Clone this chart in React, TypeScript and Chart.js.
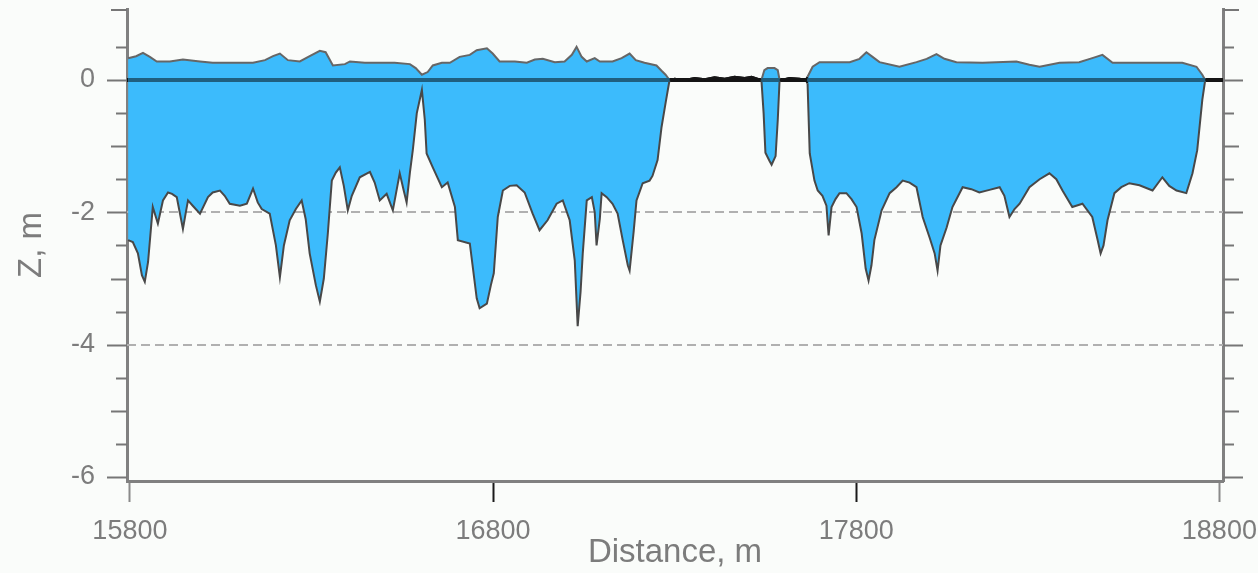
import React, { useEffect, useRef } from 'react';
import { Chart, registerables } from 'chart.js';

Chart.register(...registerables);

// ---- axes ----
const xMin = 15792;
const xMax = 18810;
const xTickValues = [15800, 16800, 17800, 18800];
const yMin = -6.06;
const yMax = 1.073;
const yLabelValues = [0, -2, -4, -6];
const yMinorStep = 0.5;
const dashedLevels = [-2, -4];

// ---- western basin ----
const westSurfaceDist = [15795, 15817, 15836, 15855, 15874, 15910, 15946, 15993, 16028, 16103, 16139, 16172, 16194, 16213, 16235, 16268, 16295, 16323, 16339, 16359, 16392, 16406, 16447, 16496, 16529, 16571, 16587, 16604, 16620, 16634, 16659, 16681, 16708, 16736, 16755, 16783, 16799, 16818, 16860, 16893, 16915, 16937, 16970, 16997, 17017, 17030, 17044, 17058, 17080, 17094, 17129, 17154, 17176, 17193, 17217, 17250, 17264, 17275, 17286];
const westSurfaceZ = [0.33, 0.36, 0.41, 0.35, 0.28, 0.28, 0.31, 0.28, 0.26, 0.26, 0.26, 0.30, 0.36, 0.40, 0.30, 0.28, 0.36, 0.44, 0.42, 0.22, 0.24, 0.28, 0.26, 0.26, 0.26, 0.24, 0.18, 0.08, 0.12, 0.22, 0.26, 0.26, 0.35, 0.38, 0.45, 0.48, 0.40, 0.28, 0.28, 0.26, 0.31, 0.32, 0.27, 0.28, 0.38, 0.50, 0.35, 0.28, 0.33, 0.28, 0.28, 0.33, 0.40, 0.30, 0.26, 0.22, 0.14, 0.08, 0.0];
const westBottomDist = [15795, 15808, 15822, 15833, 15841, 15850, 15863, 15877, 15891, 15905, 15916, 15929, 15946, 15954, 15960, 15973, 15993, 16015, 16028, 16048, 16061, 16075, 16103, 16122, 16139, 16152, 16163, 16185, 16202, 16213, 16224, 16240, 16257, 16273, 16284, 16295, 16312, 16323, 16334, 16345, 16356, 16367, 16378, 16389, 16400, 16411, 16433, 16461, 16474, 16488, 16507, 16524, 16543, 16554, 16562, 16571, 16579, 16590, 16604, 16612, 16617, 16634, 16659, 16675, 16695, 16703, 16736, 16755, 16763, 16783, 16794, 16802, 16813, 16827, 16846, 16865, 16887, 16909, 16928, 16950, 16975, 16992, 17011, 17025, 17033, 17041, 17047, 17058, 17072, 17080, 17085, 17094, 17099, 17113, 17129, 17143, 17157, 17171, 17176, 17187, 17195, 17212, 17231, 17239, 17253, 17264, 17275, 17286];
const westBottomZ = [-2.42, -2.45, -2.62, -2.95, -3.05, -2.75, -1.92, -2.17, -1.82, -1.70, -1.72, -1.77, -2.25, -2.0, -1.82, -1.9, -2.02, -1.77, -1.70, -1.67, -1.75, -1.87, -1.90, -1.87, -1.64, -1.85, -1.95, -2.02, -2.5, -2.98, -2.5, -2.12, -1.95, -1.82, -2.1, -2.62, -3.1, -3.35, -3.0, -2.32, -1.52, -1.4, -1.32, -1.6, -1.97, -1.75, -1.47, -1.39, -1.55, -1.82, -1.72, -1.97, -1.41, -1.67, -1.85, -1.4, -1.06, -0.5, -0.15, -0.6, -1.11, -1.32, -1.62, -1.55, -1.92, -2.42, -2.47, -3.3, -3.45, -3.38, -3.1, -2.92, -2.07, -1.67, -1.6, -1.59, -1.70, -2.02, -2.27, -2.12, -1.87, -1.82, -2.12, -2.73, -3.72, -3.2, -2.62, -1.82, -1.77, -2.0, -2.5, -2.1, -1.71, -1.77, -1.87, -2.02, -2.42, -2.8, -2.88, -2.3, -1.82, -1.56, -1.52, -1.45, -1.21, -0.71, -0.35, 0.0];

// ---- dry stretch and narrow notch ----
const flatDist = [17300, 17328, 17355, 17383, 17410, 17438, 17465, 17493, 17512, 17528];
const flatZ = [0.02, 0.0, 0.03, 0.01, 0.04, 0.02, 0.05, 0.03, 0.05, 0.02];
const notchTopDist = [17539, 17547, 17556, 17575, 17584, 17589];
const notchTopZ = [0.0, 0.15, 0.18, 0.18, 0.15, 0.0];
const notchBottomDist = [17539, 17545, 17550, 17561, 17567, 17578, 17584, 17589];
const notchBottomZ = [0.0, -0.5, -1.1, -1.22, -1.28, -1.15, -0.6, 0.0];
const flat2Dist = [17594, 17616, 17644, 17661];
const flat2Z = [0.0, 0.03, 0.02, 0.0];

// ---- eastern basin ----
const eastSurfaceDist = [17666, 17680, 17699, 17782, 17809, 17828, 17845, 17864, 17919, 17966, 17994, 18021, 18043, 18076, 18148, 18241, 18277, 18305, 18360, 18414, 18450, 18478, 18506, 18607, 18698, 18737, 18753, 18761, 18778, 18805];
const eastSurfaceZ = [0.05, 0.20, 0.27, 0.27, 0.32, 0.42, 0.35, 0.27, 0.20, 0.27, 0.32, 0.39, 0.32, 0.27, 0.26, 0.28, 0.23, 0.20, 0.26, 0.27, 0.33, 0.38, 0.26, 0.26, 0.26, 0.20, 0.08, 0.0, 0.0, 0.0];
const eastBottomDist = [17666, 17672, 17685, 17694, 17707, 17718, 17724, 17732, 17743, 17754, 17773, 17787, 17801, 17815, 17826, 17834, 17842, 17850, 17870, 17892, 17911, 17928, 17947, 17966, 17983, 18002, 18016, 18024, 18032, 18049, 18065, 18093, 18117, 18139, 18167, 18195, 18208, 18222, 18236, 18250, 18277, 18305, 18332, 18351, 18368, 18395, 18423, 18450, 18464, 18473, 18481, 18492, 18511, 18530, 18552, 18580, 18616, 18643, 18662, 18682, 18709, 18726, 18739, 18753, 18761, 18778, 18805];
const eastBottomZ = [-0.05, -1.11, -1.52, -1.67, -1.75, -1.9, -2.35, -1.92, -1.8, -1.71, -1.71, -1.8, -1.92, -2.32, -2.85, -3.03, -2.8, -2.42, -1.97, -1.71, -1.62, -1.52, -1.55, -1.62, -2.07, -2.38, -2.62, -2.88, -2.5, -2.23, -1.92, -1.62, -1.65, -1.70, -1.66, -1.62, -1.75, -2.07, -1.95, -1.87, -1.62, -1.5, -1.41, -1.5, -1.67, -1.92, -1.87, -2.07, -2.4, -2.62, -2.5, -2.12, -1.71, -1.62, -1.56, -1.59, -1.67, -1.47, -1.6, -1.67, -1.71, -1.41, -1.06, -0.3, 0.0, 0.0, 0.0];

const FONT = "'Liberation Sans', Arial, sans-serif";
const TEXT = '#7c7c7c';
const AXIS = '#808080';

type P = { x: number; y: number | null };
const toPoints = (d: number[], z: number[]): P[] => d.map((x, i) => ({ x, y: z[i] }));

const wetSpan = (d: number[], z: number[]): [number, number] => {
  const i = z.findIndex((v) => v !== 0);
  let j = z.length - 1;
  while (j > 0 && z[j] === 0) j--;
  return [d[Math.max(i - 1, 0)], d[Math.min(j + 1, d.length - 1)]];
};

const axisMarks = {
  id: 'axisMarks',
  beforeDatasetsDraw(chart: any) {
    const { ctx, chartArea: a, scales } = chart;
    const y = scales.y;
    ctx.save();
    ctx.setLineDash([9, 5]);
    ctx.strokeStyle = '#b0b0b0';
    ctx.lineWidth = 2;
    for (const v of dashedLevels) {
      const py = Math.round(y.getPixelForValue(v));
      ctx.beginPath();
      ctx.moveTo(a.left, py);
      ctx.lineTo(a.right, py);
      ctx.stroke();
    }
    ctx.restore();
  },
  afterDraw(chart: any) {
    const { ctx, chartArea: a, scales } = chart;
    const y = scales.y;
    ctx.save();
    ctx.strokeStyle = '#767676';
    ctx.lineWidth = 2;
    const n = Math.round((0.5 - -6) / yMinorStep);
    for (let k = 0; k <= n; k++) {
      const v = 0.5 - k * yMinorStep;
      const py = Math.round(y.getPixelForValue(v)) + 0.5;
      const isInt = Math.abs(v - Math.round(v)) < 1e-6;
      const len = !isInt ? 11 : Math.round(v) % 2 === 0 ? 20 : 16;
      ctx.beginPath();
      ctx.moveTo(a.left - len, py);
      ctx.lineTo(a.left, py);
      ctx.moveTo(a.right, py);
      ctx.lineTo(a.right + len, py);
      ctx.stroke();
    }
    const pt = a.top + 1;
    ctx.beginPath();
    ctx.moveTo(a.left - 16, pt);
    ctx.lineTo(a.left, pt);
    ctx.moveTo(a.right, pt);
    ctx.lineTo(a.right + 16, pt);
    ctx.stroke();
    ctx.restore();
  },
};

export default function App() {
  const ref = useRef<HTMLCanvasElement | null>(null);

  useEffect(() => {
    if (!ref.current) return;
    const surface = [
      ...toPoints(westSurfaceDist, westSurfaceZ),
      ...toPoints(flatDist, flatZ),
      ...toPoints(notchTopDist, notchTopZ),
      ...toPoints(flat2Dist, flat2Z),
      ...toPoints(eastSurfaceDist, eastSurfaceZ),
    ];
    const bottom = [
      ...toPoints(westBottomDist, westBottomZ),
      ...toPoints(flatDist, flatZ),
      ...toPoints(notchBottomDist, notchBottomZ),
      ...toPoints(flat2Dist, flat2Z),
      ...toPoints(eastBottomDist, eastBottomZ),
    ];
    const spans = [
      wetSpan(westBottomDist, westBottomZ),
      wetSpan(notchBottomDist, notchBottomZ),
      wetSpan(eastBottomDist, eastBottomZ),
    ];
    const zeroWet: P[] = [];
    spans.forEach(([s, e]) => {
      zeroWet.push({ x: s, y: 0 }, { x: e, y: 0 }, { x: e + 1, y: null });
    });
    const dryColor = (c: any) =>
      Math.abs(c.p0.parsed.y) < 0.07 && Math.abs(c.p1.parsed.y) < 0.07 ? '#161616' : undefined;

    const chart = new Chart(ref.current, {
      type: 'line',
      data: {
        datasets: [
          {
            label: 'zero',
            data: [{ x: xMin, y: 0 }, { x: xMax, y: 0 }],
            borderColor: '#141414',
            borderWidth: 4,
            pointRadius: 0,
            fill: false,
            order: 4,
          },
          {
            label: 'surface',
            data: surface,
            borderColor: '#666666',
            borderWidth: 2,
            backgroundColor: '#3cbbfc',
            pointRadius: 0,
            fill: { target: 2 },
            segment: { borderColor: dryColor },
            order: 3,
          },
          {
            label: 'bottom',
            data: bottom,
            borderColor: '#484848',
            borderWidth: 2,
            pointRadius: 0,
            fill: false,
            segment: { borderColor: dryColor },
            order: 2,
          },
          {
            label: 'zeroWet',
            data: zeroWet,
            borderColor: '#1f5f80',
            borderWidth: 4,
            pointRadius: 0,
            fill: false,
            spanGaps: false,
            order: 1,
          },
        ] as any,
      },
      options: {
        animation: false,
        responsive: false,
        maintainAspectRatio: false,
        layout: { padding: { top: 9, left: 0, right: 0, bottom: 0 } },
        plugins: { legend: { display: false }, tooltip: { enabled: false } },
        elements: { line: { tension: 0 } },
        scales: {
          x: {
            type: 'linear',
            position: 'bottom',
            min: xMin,
            max: xMax,
            afterBuildTicks: (s: any) => {
              s.ticks = xTickValues.map((v) => ({ value: v }));
            },
            afterFit: (s: any) => {
              s.height = 92;
              s.paddingLeft = 0;
              s.paddingRight = 0;
            },
            grid: {
              drawOnChartArea: false,
              drawTicks: true,
              tickLength: 21,
              tickWidth: 2,
              tickColor: (c: any) => (c.index === 1 || c.index === 2 ? '#1a1a1a' : '#8a8a8a'),
            },
            border: { display: true, color: AXIS, width: 3 },
            ticks: {
              autoSkip: false,
              maxRotation: 0,
              padding: 16,
              color: TEXT,
              font: { family: FONT, size: 27, lineHeight: 1 },
              callback: (v: any) => String(v),
            },
            title: {
              display: true,
              text: 'Distance, m',
              color: TEXT,
              font: { family: FONT, size: 33, lineHeight: 1 },
              padding: { top: 0, bottom: 4 },
            },
          },
          y: {
            type: 'linear',
            position: 'left',
            min: yMin,
            max: yMax,
            afterBuildTicks: (s: any) => {
              s.ticks = yLabelValues.map((v) => ({ value: v }));
            },
            afterFit: (s: any) => {
              s.width = 127;
              s.paddingTop = 0;
              s.paddingBottom = 0;
            },
            grid: { drawOnChartArea: false, drawTicks: false },
            border: { display: true, color: AXIS, width: 3 },
            ticks: {
              padding: 32,
              color: TEXT,
              font: { family: FONT, size: 27, lineHeight: 1 },
              callback: (v: any) => String(v),
            },
            title: {
              display: true,
              text: 'Z, m',
              color: TEXT,
              font: { family: FONT, size: 33, lineHeight: 1 },
              padding: { top: 15, bottom: 0 },
            },
          },
          y2: {
            type: 'linear',
            position: 'right',
            min: yMin,
            max: yMax,
            afterFit: (s: any) => {
              s.width = 35;
              s.paddingTop = 0;
              s.paddingBottom = 0;
            },
            grid: { drawOnChartArea: false, drawTicks: false },
            border: { display: true, color: AXIS, width: 3 },
            ticks: { display: false },
          },
        },
      } as any,
      plugins: [axisMarks],
    });
    return () => chart.destroy();
  }, []);

  return (
    <div
      style={{
        position: 'fixed',
        left: 0,
        top: 0,
        width: 1258,
        height: 573,
        background: '#fafcfa',
      }}
    >
      <canvas ref={ref} width={1258} height={573} style={{ display: 'block', width: 1258, height: 573 }} />
    </div>
  );
}
